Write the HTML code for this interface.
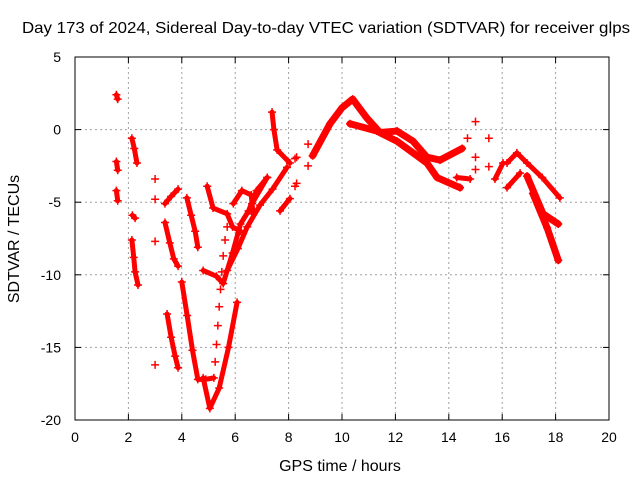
<!DOCTYPE html>
<html><head><meta charset="utf-8"><style>
body{margin:0;background:#fff}
svg{display:block;font-family:"Liberation Sans",sans-serif}
</style></head><body>
<svg id="c" width="640" height="480">
<text x="326" y="33" font-size="16" text-anchor="middle" textLength="608" lengthAdjust="spacingAndGlyphs">Day 173 of 2024, Sidereal Day-to-day VTEC variation (SDTVAR) for receiver glps</text>
<text x="340" y="471" font-size="16" text-anchor="middle">GPS time / hours</text>
<text transform="translate(19,239) rotate(-90)" font-size="16" text-anchor="middle">SDTVAR / TECUs</text>
<g id="grid"></g>
<g id="ticks"></g>
<g id="marks"></g>
<rect x="75" y="57" width="534" height="363" fill="none" stroke="#000"/>
</svg>
<script>
const xTicks=[0,2,4,6,8,10,12,14,16,18,20];
const yTicks=[5,0,-5,-10,-15,-20];
// track segments [hour, value]
const trackA=[[1.55,2.4],[1.6,2.1]];
const trackB=[[1.55,-2.2],[1.6,-2.8]];
const trackC=[[1.55,-4.2],[1.6,-4.9]];
const trackD=[[2.13,-0.6],[2.22,-1.3],[2.32,-2.3]];
const trackE=[[2.15,-5.9],[2.25,-6.1]];
const trackF=[[2.13,-7.6],[2.2,-8.8],[2.25,-9.8],[2.36,-10.7]];
const trackG=[[3.37,-5.1],[3.6,-4.6],[3.86,-4.1]];
const trackH=[[3.37,-6.4],[3.55,-7.8],[3.7,-8.9],[3.86,-9.4]];
const trackI=[[3.45,-12.7],[3.6,-14.3],[3.75,-15.6],[3.86,-16.4]];
const trackJ=[[4.19,-4.7],[4.35,-5.9],[4.5,-7.0],[4.6,-8.1]];
const trackK=[[4.0,-10.5],[4.2,-12.8],[4.4,-15.2],[4.6,-17.2],[4.9,-17.2],[5.2,-17.1]];
const sparseK=[[5.25,-16.0],[5.3,-14.8],[5.35,-13.5],[5.4,-12.2],[5.45,-11.0],[5.5,-9.8],[5.55,-8.7],[5.62,-7.6],[5.7,-6.7]];
const trackL=[[4.8,-17.1],[5.05,-19.2],[5.4,-17.8],[5.75,-15.0],[6.07,-11.9]];
const trackM=[[4.8,-9.7],[5.3,-10.1],[5.55,-10.6],[5.9,-8.5],[6.2,-6.5],[6.5,-5.6],[6.8,-4.2],[7.2,-3.3]];
const trackN=[[5.7,-9.7],[6.1,-8.2],[6.45,-6.7],[6.93,-5.2],[7.4,-4.1],[7.94,-2.6]];
const trackO=[[4.95,-3.9],[5.17,-5.4],[5.7,-5.8],[5.9,-6.7],[6.2,-7.0]];
const trackP=[[5.93,-5.1],[6.25,-4.2],[6.6,-4.5],[6.67,-5.8]];
const trackQ=[[6.63,-5.1],[7.2,-3.3]];
const trackR=[[7.38,1.2],[7.45,0.0],[7.57,-1.4],[8.05,-2.3]];
const trackS=[[7.68,-5.6],[8.05,-4.75]];
const trackT=[[8.9,-1.8],[9.55,0.4],[10.0,1.5],[10.4,2.1],[10.93,0.8],[11.42,-0.2],[12.06,-0.1],[12.66,-0.8],[13.18,-1.9],[13.67,-2.1],[14.5,-1.3]];
const trackU=[[10.3,0.4],[11.3,-0.1],[12.06,-0.8],[13.18,-2.3],[13.56,-3.3],[14.42,-4.0]];
const trackV=[[14.3,-3.3],[14.8,-3.4]];
const trackW=[[15.73,-3.4],[16.03,-2.3]];
const trackX=[[16.18,-2.3],[16.55,-1.6],[16.93,-2.3],[17.5,-3.3],[18.16,-4.7]];
const trackY=[[16.18,-4.0],[16.67,-3.0]];
const trackZ=[[16.93,-3.2],[17.53,-5.8],[18.1,-6.5]];
const trackZ2=[[17.15,-4.4],[17.68,-6.75],[18.1,-9.0]];
const isolated=[[3.0,-3.4],[3.0,-4.8],[3.0,-7.7],[3.0,-16.2],[8.24,-2.0],[8.24,-3.9],[8.3,-1.9],[8.3,-3.7],[8.73,-1.0],[8.73,-2.5],[15.0,0.55],[14.7,-0.6],[15.5,-0.6],[15.0,-1.9],[15.0,-2.75],[15.5,-2.55]];
const tracks=[trackA,trackB,trackC,trackD,trackE,trackF,trackG,trackH,trackI,trackJ,trackK,trackL,trackM,trackN,trackO,trackP,trackQ,trackR,trackS,trackT,trackU,trackV,trackW,trackX,trackY,trackZ,trackZ2];
const NS='http://www.w3.org/2000/svg';
const X=h=>75+h*534/20, Y=v=>57+(5-v)*363/25;
const grid=document.getElementById('grid'),ticks=document.getElementById('ticks'),marks=document.getElementById('marks');
function mk(t,a,p){const e=document.createElementNS(NS,t);for(const k in a)e.setAttribute(k,a[k]);p.appendChild(e);return e;}
xTicks.forEach(t=>{const x=X(t);
 if(t>0&&t<20){const g=mk('line',{x1:x,x2:x,y1:57,y2:420,stroke:'#a0a0a0','stroke-dasharray':'2,3'},grid);}
 mk('line',{x1:x,x2:x,y1:420,y2:414,stroke:'#000'},ticks);mk('line',{x1:x,x2:x,y1:57,y2:63,stroke:'#000'},ticks);
 const l=mk('text',{x:x,y:442,'font-size':14,'text-anchor':'middle'},ticks);l.textContent=t;
 });
yTicks.forEach(t=>{const y=Y(t);
 if(t<5&&t>-20){const g=mk('line',{x1:75,x2:609,y1:y,y2:y,stroke:'#a0a0a0','stroke-dasharray':'2,3'},grid);}
 mk('line',{x1:75,x2:81,y1:y,y2:y,stroke:'#000'},ticks);mk('line',{x1:609,x2:603,y1:y,y2:y,stroke:'#000'},ticks);
 const l=mk('text',{x:61,y:y+5,'font-size':14,'text-anchor':'end'},ticks);l.textContent=t;
 });
function plus(h,v){const x=X(h),y=Y(v);
 const p=mk('path',{d:`M${x-4},${y}h8M${x},${y-4}v8`,stroke:'#f00','stroke-width':1.5},marks);
 }
tracks.forEach(tr=>{
 const w=(tr===trackT||tr===trackU||tr===trackZ2||tr===trackZ)?7:5;
 const pl=mk('polyline',{points:tr.map(p=>X(p[0])+','+Y(p[1])).join(' '),fill:'none',stroke:'#f00','stroke-width':w,'stroke-linejoin':'round','stroke-linecap':'round'},marks);
 
 tr.forEach(p=>plus(p[0],p[1]));});
sparseK.forEach(p=>plus(p[0],p[1]));
isolated.forEach(p=>plus(p[0],p[1]));
</script>
</body></html>
